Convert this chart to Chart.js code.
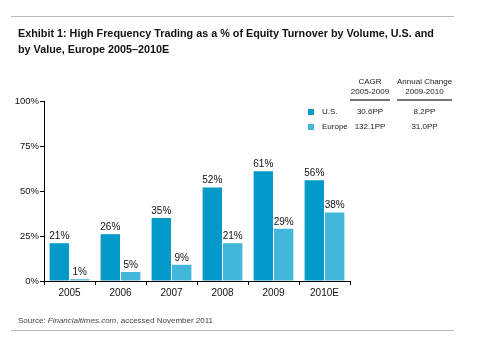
<!DOCTYPE html>
<html>
<head>
<meta charset="utf-8">
<script src="https://cdn.jsdelivr.net/npm/chart.js@4"></script>
<style>
  body { margin: 0; background: #fff; font-family: "Liberation Sans", Arial, sans-serif; }
  #wrap { position: relative; width: 501px; height: 344px; overflow: hidden; }
  #chart { position: absolute; left: 0; top: 0; }
  .rule { position: absolute; left: 11px; width: 443px; height: 1px; background: #b8b8b8; }
  .title { position: absolute; left: 18px; top: 25px; font-size: 10.8px; font-weight: bold; line-height: 16px; color: #111; white-space: nowrap; }
  .hdr { position: absolute; top: 77px; font-size: 8px; line-height: 10px; text-align: center; color: #222; border-bottom: 2px solid #777; padding-bottom: 2px; white-space: nowrap; }
  .cell { position: absolute; font-size: 8px; color: #222; line-height: 10px; white-space: nowrap; }
  .sw { position: absolute; width: 6px; height: 6px; }
  .src { position: absolute; left: 18px; top: 316px; font-size: 8px; color: #444; white-space: nowrap; }
</style>
</head>
<body>
<div id="wrap">
  <canvas id="chart" width="501" height="344"></canvas>
  <div class="rule" style="top:16px"></div>
  <div class="title">Exhibit 1: High Frequency Trading as a % of Equity Turnover by Volume, U.S. and<br>by Value, Europe 2005–2010E</div>
  <div class="hdr" style="left:350px;width:40px">CAGR<br>2005-2009</div>
  <div class="hdr" style="left:397px;width:55px">Annual Change<br>2009-2010</div>
  <div class="sw" style="left:308px;top:109px;background:#0399c9"></div>
  <div class="cell" style="left:322px;top:107px">U.S.</div>
  <div class="cell" style="left:350px;top:107px;width:40px;text-align:center">30.6PP</div>
  <div class="cell" style="left:397px;top:107px;width:55px;text-align:center">8.2PP</div>
  <div class="sw" style="left:308px;top:124px;background:#42b7dc"></div>
  <div class="cell" style="left:322px;top:122px">Europe</div>
  <div class="cell" style="left:345px;top:122px;width:50px;text-align:center">132.1PP</div>
  <div class="cell" style="left:397px;top:122px;width:55px;text-align:center">31.0PP</div>
  <div class="src">Source: <i>Financialtimes.com</i>, accessed November 2011</div>
  <div class="rule" style="top:330px"></div>
</div>
<script>
const years = ["2005", "2006", "2007", "2008", "2009", "2010E"];
const usValues = [21, 26, 35, 52, 61, 56];
const europeValues = [1, 5, 9, 21, 29, 38];
const yTicks = [0, 25, 50, 75, 100];

const usBlue = "#0399c9";
const euBlue = "#42b7dc";

// draw the % labels above each bar
const barLabels = {
    id: "barLabels",
    afterDatasetsDraw(chart) {
        const ctx = chart.ctx;
        ctx.save();
        ctx.font = "10px 'Liberation Sans', Arial, sans-serif";
        ctx.fillStyle = "#111";
        ctx.textAlign = "center";
        ctx.textBaseline = "bottom";
        chart.data.datasets.forEach((ds, i) => {
            chart.getDatasetMeta(i).data.forEach((bar, j) => {
                ctx.fillText(ds.data[j] + "%", bar.x, bar.y - 2);
            });
        });
        ctx.restore();
    }
};

new Chart(document.getElementById("chart"), {
    type: "bar",
    data: {
        labels: years,
        datasets: [{
            label: "U.S.",
            data: usValues,
            backgroundColor: usBlue
        }, {
            label: "Europe",
            data: europeValues,
            backgroundColor: euBlue
        }]
    },
    options: {
        responsive: false,
        animation: false,
        events: [],
        layout: { padding: { left: 0, right: 151, top: 101, bottom: 43 } },
        categoryPercentage: 0.8,
        barPercentage: 0.95,
        plugins: { legend: { display: false }, tooltip: { enabled: false } },
        scales: {
            x: {
                grid: { display: true, drawOnChartArea: false, tickLength: 4, color: "#000", offset: true },
                border: { color: "#000", width: 1 },
                ticks: { color: "#111", font: { size: 10, family: "'Liberation Sans', Arial" }, padding: 2 },
                afterFit(s) { s.height = 20; }
            },
            y: {
                min: 0,
                max: 100,
                afterBuildTicks(s) { s.ticks = yTicks.map(v => ({ value: v })); },
                grid: { display: true, drawOnChartArea: false, tickLength: 4, color: "#000" },
                border: { color: "#000", width: 1 },
                ticks: {
                    color: "#111",
                    font: { size: 9.5, family: "'Liberation Sans', Arial" },
                    padding: 1,
                    callback: v => v + "%"
                },
                afterFit(s) { s.width = 44; }
            }
        }
    },
    plugins: [barLabels]
});
</script>
</body>
</html>
